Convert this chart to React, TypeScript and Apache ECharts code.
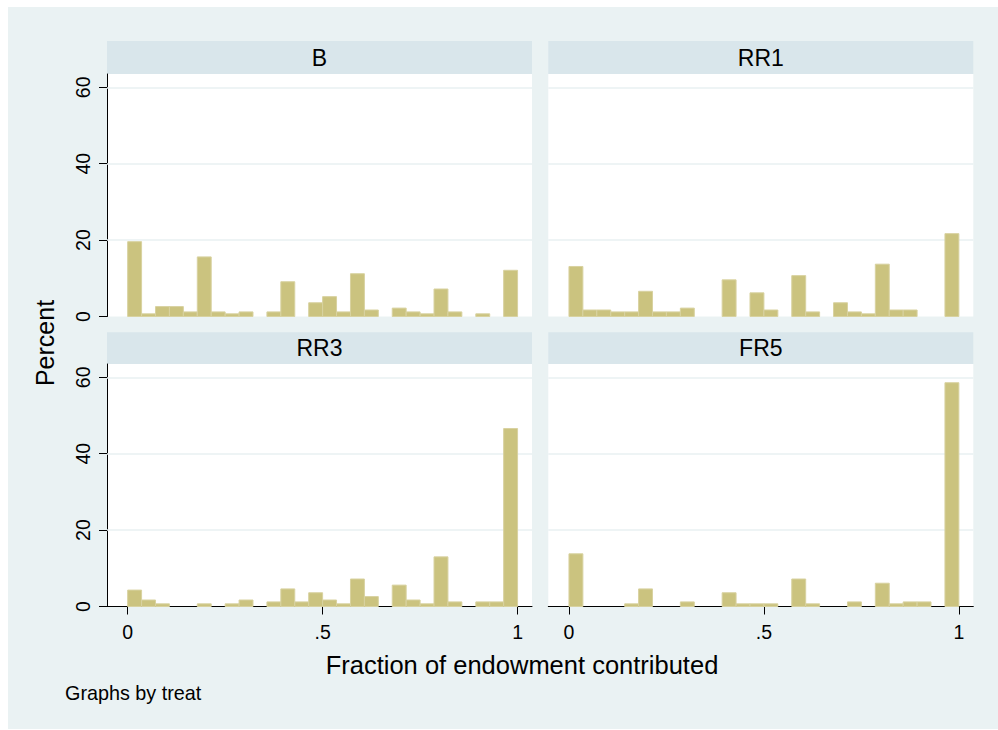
import React, { useEffect, useRef } from "react";
import * as echarts from "echarts";

// Histogram of the fraction of endowment contributed, one panel per treatment.
// 28 equal-width bins spanning 0..1; values are percent of observations.
const binWidth = 1 / 28;

const panelTitles = ["B", "RR1", "RR3", "FR5"];

const percentB = [19.6, 0.7, 2.6, 2.6, 1.2, 15.6, 1.2, 0.7, 1.2, 0, 1.2, 9.1, 0, 3.6, 5.2, 1.2, 11.2, 1.7, 0, 2.2, 1.2, 0.7, 7.2, 1.2, 0, 0.7, 0, 12.1];
const percentRR1 = [13.1, 1.7, 1.7, 1.2, 1.2, 6.6, 1.2, 1.2, 2.2, 0, 0, 9.6, 0, 6.2, 1.7, 0, 10.7, 1.2, 0, 3.6, 1.2, 0.7, 13.7, 1.7, 1.7, 0, 0, 21.7];
const percentRR3 = [4.3, 1.7, 0.7, 0, 0, 0.7, 0, 0.7, 1.7, 0, 1.2, 4.6, 1.2, 3.6, 1.7, 0.7, 7.2, 2.6, 0, 5.6, 1.7, 0.7, 13.0, 1.2, 0, 1.2, 1.2, 46.6];
const percentFR5 = [13.8, 0, 0, 0, 0.7, 4.6, 0, 0, 1.2, 0, 0, 3.6, 0.7, 0.7, 0.7, 0, 7.2, 0.7, 0, 0, 1.2, 0, 6.1, 0.7, 1.2, 1.2, 0, 58.6];

const yTicks = [0, 20, 40, 60];
const gridLineValues = [20, 40, 60];
const xTicks = [0, 0.5, 1];
const xTickText = ["0", ".5", "1"];

const yTitle = "Percent";
const xTitle = "Fraction of endowment contributed";
const note = "Graphs by treat";

const FONT = "'Liberation Sans', Arial, Helvetica, sans-serif";
const OUTER_BG = "#eaf2f3";
const STRIP_BG = "#d9e6eb";
const GRID_LINE = "#e8f0f2";
const BAR_FILL = "#cbc37f";
const BAR_EDGE = "#d8d2a0";

const X_MIN = -0.053;
const X_MAX = 1.037;
const Y_MAX = 63.5;

const panelValues = [percentB, percentRR1, percentRR3, percentFR5];

// panel frames in chart pixels
const PANEL_W = 425;
const PANEL_H = 242.5;
const COL_LEFT = [99, 540.3];
const ROW_TOP = [67, 357];
const STRIP_H = [33, 31.7];

export default function App() {
  const ref = useRef<HTMLDivElement>(null);

  useEffect(() => {
    if (!ref.current) return;
    const chart = echarts.init(ref.current, null, { renderer: "svg" });

    const grids: any[] = [];
    const xAxes: any[] = [];
    const yAxes: any[] = [];
    const series: any[] = [];
    const graphics: any[] = [];

    panelValues.forEach((values, idx) => {
      const col = idx % 2;
      const row = Math.floor(idx / 2);
      const left = COL_LEFT[col];
      const top = ROW_TOP[row];
      const showY = col === 0;
      const showX = row === 1;

      grids.push({
        left,
        top,
        width: PANEL_W,
        height: PANEL_H,
        show: true,
        backgroundColor: "#ffffff",
        borderWidth: 0,
        containLabel: false,
      });

      xAxes.push({
        type: "value",
        gridIndex: idx,
        min: X_MIN,
        max: X_MAX,
        show: showX,
        axisLine: { show: true, onZero: false, lineStyle: { color: "#000000", width: 1 } },
        axisTick: {
          show: true,
          length: 8,
          customValues: xTicks,
          lineStyle: { color: "#000000", width: 1 },
        },
        axisLabel: {
          show: true,
          customValues: xTicks,
          margin: 15,
          color: "#000000",
          fontSize: 19.5,
          fontFamily: FONT,
          formatter: (v: number) => {
            const i = xTicks.findIndex((t) => Math.abs(t - v) < 1e-9);
            return i >= 0 ? xTickText[i] : "";
          },
        },
        splitLine: { show: false },
      });

      yAxes.push({
        type: "value",
        gridIndex: idx,
        min: 0,
        max: Y_MAX,
        show: showY,
        axisLine: { show: true, onZero: false, lineStyle: { color: "#000000", width: 1 } },
        axisTick: {
          show: true,
          length: 8,
          customValues: yTicks,
          lineStyle: { color: "#000000", width: 1 },
        },
        axisLabel: {
          show: true,
          customValues: yTicks,
          rotate: 90,
          margin: 14,
          color: "#000000",
          fontSize: 19.5,
          fontFamily: FONT,
        },
        splitLine: { show: false },
      });

      const data = values
        .map((v, i) => [i * binWidth, (i + 1) * binWidth, v])
        .filter((d) => d[2] > 0);

      series.push({
        type: "custom",
        xAxisIndex: idx,
        yAxisIndex: idx,
        z: 3,
        silent: true,
        encode: { x: [0, 1], y: 2 },
        data,
        renderItem: (_params: any, api: any) => {
          const p0 = api.coord([api.value(0), api.value(2)]);
          const p1 = api.coord([api.value(1), 0]);
          return {
            type: "rect",
            shape: { x: p0[0], y: p0[1], width: p1[0] - p0[0], height: p1[1] - p0[1] },
            style: { fill: BAR_FILL, stroke: BAR_EDGE, lineWidth: 1 },
          };
        },
        markLine: {
          silent: true,
          z: 1,
          symbol: ["none", "none"],
          label: { show: false },
          emphasis: { disabled: true },
          lineStyle: { color: GRID_LINE, width: 1.5, type: "solid" },
          data: gridLineValues.map((v) => ({ yAxis: v })),
        },
      });

      // panel title strip
      graphics.push({
        type: "rect",
        shape: { x: left, y: top - STRIP_H[row], width: PANEL_W, height: STRIP_H[row] },
        style: { fill: STRIP_BG },
        silent: true,
      });
      graphics.push({
        type: "text",
        x: left + PANEL_W / 2,
        y: top - STRIP_H[row] / 2,
        style: {
          text: panelTitles[idx],
          fill: "#000000",
          fontSize: 23,
          fontFamily: FONT,
          align: "center",
          verticalAlign: "middle",
        },
        silent: true,
      });
    });

    graphics.push({
      type: "text",
      x: 37,
      y: 336,
      rotation: Math.PI / 2,
      style: {
        text: yTitle,
        fill: "#000000",
        fontSize: 25,
        fontFamily: FONT,
        align: "center",
        verticalAlign: "middle",
      },
      silent: true,
    });
    graphics.push({
      type: "text",
      x: 514,
      y: 658,
      style: {
        text: xTitle,
        fill: "#000000",
        fontSize: 25.5,
        fontFamily: FONT,
        align: "center",
        verticalAlign: "middle",
      },
      silent: true,
    });
    graphics.push({
      type: "text",
      x: 57,
      y: 686,
      style: {
        text: note,
        fill: "#000000",
        fontSize: 19.8,
        fontFamily: FONT,
        align: "left",
        verticalAlign: "middle",
      },
      silent: true,
    });

    chart.setOption({
      animation: false,
      backgroundColor: OUTER_BG,
      grid: grids,
      xAxis: xAxes,
      yAxis: yAxes,
      series,
      graphic: { elements: graphics },
    });

    return () => chart.dispose();
  }, []);

  return (
    <div
      ref={ref}
      style={{ position: "fixed", left: 8, top: 7, width: 990, height: 722 }}
    />
  );
}
